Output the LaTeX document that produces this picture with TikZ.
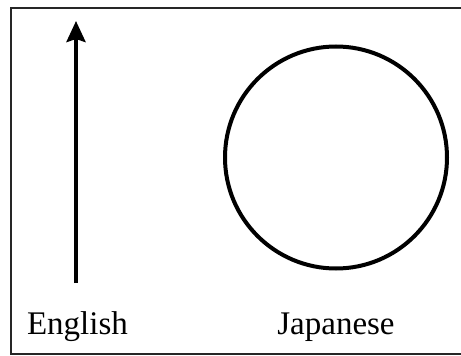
\documentclass[tikz,border=0pt]{standalone}
\usepackage{fontspec}
\setmainfont{Liberation Serif}
\usetikzlibrary{arrows.meta}
\begin{document}
\begin{tikzpicture}[x=1pt,y=-1pt,
  frame/.style={line width=1.6pt, draw=black!85},
  thick line/.style={line width=4pt, draw=black},
  label/.style={inner sep=0pt, anchor=base, font=\fontsize{33}{36}\selectfont}]
\useasboundingbox (0,0) rectangle (461,356);
\fill[white] (0,0) rectangle (461,356);
% frame (left, top, bottom)
\draw[frame] (461,8) -- (11,8) -- (11,354) -- (461,354);
% arrow
\coordinate (arrowbase) at (76,283);
\coordinate (arrowtip) at (76,21);
\draw[thick line, -{Stealth[length=21pt,width=19pt,inset=3pt]}] (arrowbase) -- (arrowtip);
% circle
\node[circle, thick line, minimum size=222pt, inner sep=0pt] (circ) at (336,157.5) {};
% labels
\node[label] (english) at (77.5,334) {English};
\node[label] (japanese) at (336,334) {Japanese};
\end{tikzpicture}
\end{document}
